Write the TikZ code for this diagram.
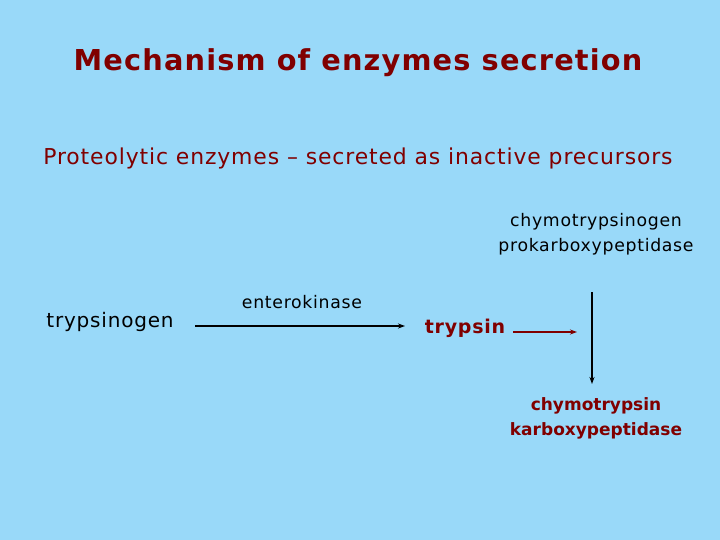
\documentclass[tikz,border=0pt]{standalone}
\usepackage{fontspec}
\setmainfont{DejaVu Sans}[LetterSpace=4]
\newfontfamily\tightbold{DejaVu Sans}[LetterSpace=0]
\definecolor{bg}{RGB}{153,217,249}
\definecolor{dred}{RGB}{128,0,0}
\usetikzlibrary{arrows.meta}
\begin{document}
\begin{tikzpicture}[x=1pt,y=-1pt,
  lbl/.style={inner sep=0pt,font=\fontsize{17.3}{25}\selectfont,text=black},
  actlbl/.style={inner sep=0pt,font=\tightbold\fontsize{17}{25}\selectfont\bfseries,text=dred,align=center},
  conn/.style={line width=1.3pt,-{Stealth[length=7pt,width=5pt]}}]
\fill[bg] (0,0) rectangle (720,540);
\useasboundingbox (0,0) rectangle (720,540);
\node[inner sep=0pt,font=\fontsize{28.8}{36}\selectfont\bfseries,text=dred] (title) at (358,63) {Mechanism of enzymes secretion};
\node[inner sep=0pt,font=\fontsize{21.9}{26}\selectfont,text=dred] (sub) at (358,158) {Proteolytic enzymes – secreted as inactive precursors};
\node[lbl,align=center] (pre) at (596,234) {chymotrypsinogen\\prokarboxypeptidase};
\node[lbl,font=\fontsize{20}{25}\selectfont] (tgen) at (110,322) {trypsinogen};
\node[lbl] (ek) at (302,302) {enterokinase};
\node[inner sep=0pt,font=\fontsize{19}{25}\selectfont\bfseries,text=dred] (tryp) at (465,328) {trypsin};
\node[actlbl] (act) at (596,418) {chymotrypsin\\karboxypeptidase};
\coordinate (a1) at (195,326);
\coordinate (a2) at (405,326);
\coordinate (r1) at (513,332);
\coordinate (r2) at (577,332);
\coordinate (v1) at (592,292);
\coordinate (v2) at (592,384);
\draw[conn] (a1) -- (a2);
\draw[conn,dred,line width=1.8pt] (r1) -- (r2);
\draw[conn] (v1) -- (v2);
\end{tikzpicture}
\end{document}
